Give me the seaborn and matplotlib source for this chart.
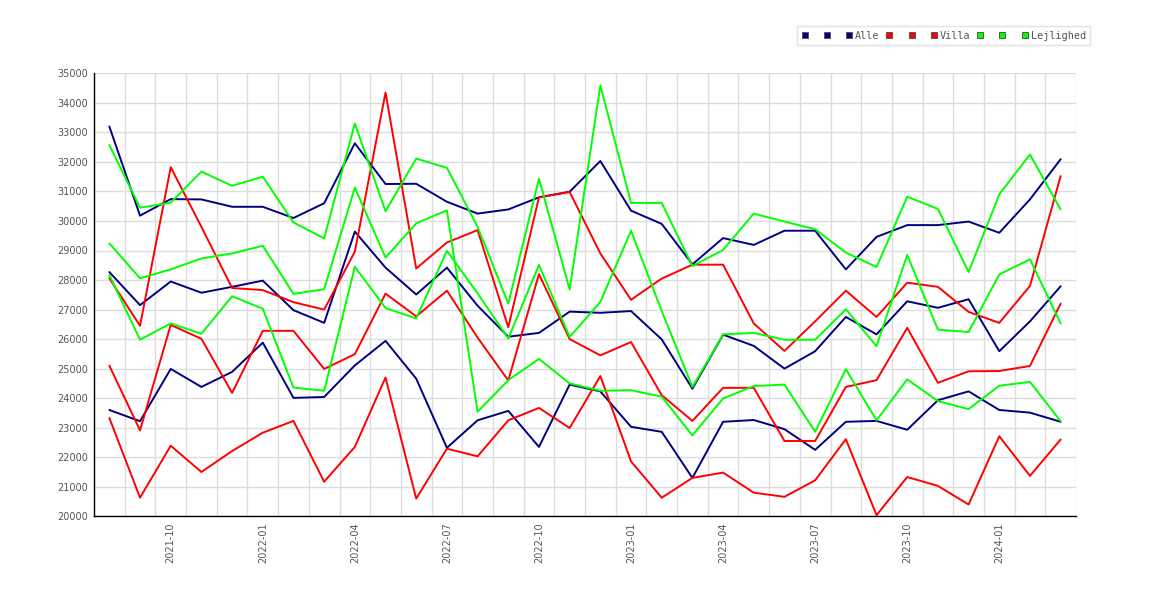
import matplotlib
matplotlib.use("Agg")
import numpy as np
import pandas as pd
import matplotlib.pyplot as plt
import seaborn as sns
from matplotlib.lines import Line2D

# months 2021-08 .. 2024-03
months = [str(p) for p in pd.period_range("2021-08", "2024-03", freq="M")]
tick_labels = ["2021-10", "2022-01", "2022-04", "2022-07", "2022-10",
               "2023-01", "2023-04", "2023-07", "2023-10", "2024-01"]

# Alle (navy)
alle_a = [33200, 30180, 30740, 30730, 30480, 30480, 30100, 30600, 32630, 31250,
          31260, 30650, 30250, 30390, 30800, 30990, 32030, 30350, 29900, 28530,
          29420, 29190, 29670, 29670, 28360, 29460, 29860, 29860, 29980, 29600,
          30730, 32090]
alle_b = [28270, 27150, 27950, 27570, 27770, 27980, 26980, 26550, 29640, 28420,
          27510, 28420, 27130, 26080, 26210, 26930, 26890, 26950, 25990, 24320,
          26150, 25770, 25000, 25590, 26750, 26160, 27280, 27060, 27350, 25590,
          26600, 27790]
alle_c = [23600, 23220, 24990, 24380, 24890, 25880, 24010, 24040, 25110, 25940,
          24660, 22320, 23250, 23570, 22350, 24460, 24230, 23030, 22860, 21300,
          23200, 23260, 22950, 22250, 23200, 23230, 22930, 23930, 24230, 23600,
          23510, 23200]

# Villa (red)
villa_a = [28060, 26450, 31820, 29800, 27730, 27660, 27250, 27000, 28960, 34350,
           28390, 29270, 29690, 26400, 30800, 30980, 28900, 27330, 28050, 28520,
           28520, 26530, 25600, 26600, 27640, 26750, 27910, 27770, 26920, 26550,
           27800, 31520]
villa_b = [25100, 22910, 26480, 26010, 24180, 26280, 26280, 24990, 25490, 27540,
           26770, 27640, 26050, 24600, 28200, 26000, 25450, 25900, 24100, 23230,
           24350, 24350, 22550, 22550, 24380, 24610, 26380, 24520, 24910, 24920,
           25090, 27200]
villa_c = [23330, 20630, 22390, 21500, 22210, 22830, 23230, 21170, 22350, 24700,
           20600, 22290, 22030, 23250, 23670, 22990, 24750, 21860, 20630, 21300,
           21480, 20800, 20660, 21220, 22610, 20040, 21330, 21030, 20400, 22710,
           21370, 22600]

# Lejlighed (green)
lejl_a = [32570, 30450, 30620, 31670, 31190, 31500, 29950, 29410, 33300, 30330,
          32110, 31800, 29800, 27200, 31430, 27680, 34590, 30610, 30610, 28470,
          29020, 30250, 29980, 29720, 28930, 28440, 30820, 30410, 28270, 30900,
          32250, 30390]
lejl_b = [29240, 28060, 28360, 28730, 28900, 29160, 27530, 27690, 31130, 28760,
          29920, 30360, 23540, 24610, 25330, 24500, 24250, 24270, 24050, 22740,
          23990, 24410, 24460, 22860, 24980, 23250, 24640, 23900, 23630, 24420,
          24550, 23220]
lejl_c = [28170, 25980, 26530, 26180, 27450, 27030, 24360, 24250, 28450, 27050,
          26700, 28990, 27550, 26020, 28510, 26070, 27260, 29670, 26950, 24380,
          26160, 26210, 25980, 25980, 27010, 25760, 28850, 26320, 26240, 28190,
          28700, 26530]

groups = ["Alle", "Villa", "Lejlighed"]
colors = {"Alle": "#000080", "Villa": "#ff0000", "Lejlighed": "#00ff00"}
series = [("Alle", "a", alle_a), ("Alle", "b", alle_b), ("Alle", "c", alle_c),
          ("Villa", "a", villa_a), ("Villa", "b", villa_b), ("Villa", "c", villa_c),
          ("Lejlighed", "a", lejl_a), ("Lejlighed", "b", lejl_b), ("Lejlighed", "c", lejl_c)]

rows = []
for grp, key, vals in series:
    for i, v in enumerate(vals):
        rows.append({"idx": i, "month": months[i], "value": v,
                     "group": grp, "line": grp + "_" + key})
df = pd.DataFrame(rows)

sns.set_style("white")
plt.rcParams["font.family"] = ["DejaVu Sans"]

fig = plt.figure(figsize=(11.7, 6.0), dpi=100)
ax = fig.add_axes([94 / 1170, 1 - 516.3 / 600, (1076 - 94) / 1170, (516.3 - 73.3) / 600])

sns.lineplot(data=df, x="idx", y="value", hue="group", units="line",
             estimator=None, hue_order=groups, palette=colors,
             linewidth=1.4, legend=False, ax=ax)

ax.set_xlim(-0.5, len(months) - 0.5)
ax.set_ylim(20000, 35000)
ax.set_yticks(np.arange(20000, 35001, 1000))
tick_pos = [months.index(m) for m in tick_labels]
ax.set_xticks(tick_pos)
ax.set_xticklabels(tick_labels, rotation=90)
ax.set_xticks(np.arange(-0.5, len(months), 1), minor=True)
ax.grid(axis="y", which="major", color="#dddddd", linewidth=1)
ax.grid(axis="x", which="minor", color="#dddddd", linewidth=1)
ax.set_axisbelow(True)
ax.set_xlabel("")
ax.set_ylabel("")
ax.tick_params(which="both", length=0, colors="#555555", labelsize=7)
ax.tick_params(axis="y", pad=4.3)
ax.tick_params(axis="x", pad=4.5)
for s in ["top", "right"]:
    ax.spines[s].set_visible(False)
for s in ["left", "bottom"]:
    ax.spines[s].set_color("black")
    ax.spines[s].set_linewidth(1)

# legend: three squares per group, label on the last one
handles, labels = [], []
for grp in groups:
    for k in range(3):
        handles.append(Line2D([], [], linestyle="none", marker="s", markersize=4.3,
                              markerfacecolor=colors[grp], markeredgecolor="#555555",
                              markeredgewidth=0.7))
        labels.append(grp if k == 2 else " ")
leg = fig.legend(handles, labels, loc="upper left",
                 bbox_to_anchor=(797 / 1170, 1 - 26 / 600),
                 bbox_transform=fig.transFigure, ncol=9,
                 prop={"family": "DejaVu Sans Mono", "size": 7.3},
                 frameon=True, fancybox=False, edgecolor="#dddddd",
                 handlelength=0.6, handletextpad=0.29, columnspacing=0.69,
                 borderpad=0.45, borderaxespad=0)
leg.get_frame().set_linewidth(1)
for t in leg.get_texts():
    t.set_color("#555555")

fig.savefig("out.png", dpi=100, facecolor="white")
